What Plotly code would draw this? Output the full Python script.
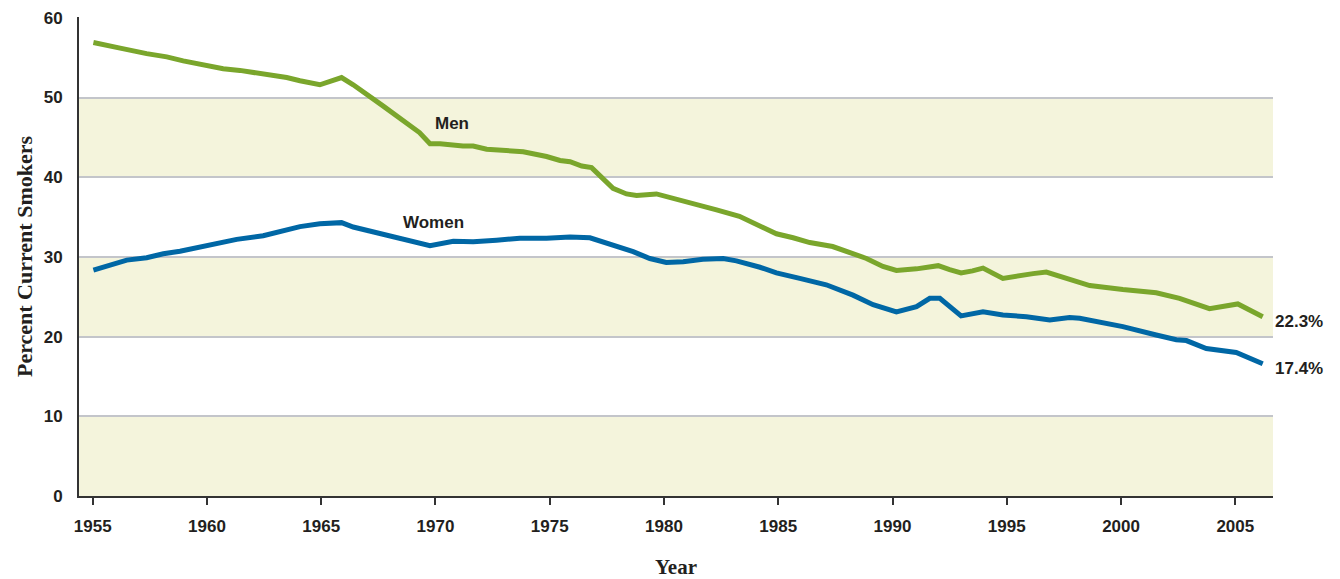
import plotly.graph_objects as go

# ---- data ----
men_years = [1955.03, 1955.6, 1956.2, 1957.36, 1958.24, 1958.96, 1959.84, 1960.71, 1961.44,
             1962.17, 1962.76, 1963.49, 1964.07, 1964.65, 1964.94, 1965.89, 1966.4, 1967.7,
             1968.6, 1969.3, 1969.76, 1970.2, 1971.2, 1971.65, 1972.24, 1973.26, 1973.84,
             1974.86, 1975.45, 1975.89, 1976.4, 1976.83, 1977.77, 1978.36, 1978.8, 1979.67,
             1980.4, 1981.1, 1981.7, 1982.3, 1983.3, 1984.05, 1984.92, 1985.65, 1986.38,
             1987.38, 1988.13, 1988.86, 1989.58, 1990.17, 1991.05, 1991.63, 1992.0, 1992.5,
             1993.0, 1993.5, 1993.96, 1994.83, 1995.42, 1996.15, 1996.73, 1997.75, 1998.63,
             2000.08, 2001.54, 2002.56, 2003.87, 2005.11, 2006.2]
men_pct = [56.9, 56.5, 56.2, 55.5, 55.1, 54.6, 54.1, 53.6, 53.4,
           53.1, 52.8, 52.5, 52.1, 51.7, 51.6, 52.5, 51.6, 48.95,
           47.1, 45.6, 44.2, 44.2, 43.9, 43.9, 43.5, 43.3, 43.2,
           42.6, 42.1, 41.95, 41.4, 41.2, 38.6, 37.9, 37.7, 37.9,
           37.3, 36.8, 36.3, 35.9, 35.1, 34.0, 32.9, 32.4, 31.8,
           31.3, 30.6, 29.8, 28.8, 28.3, 28.5, 28.75, 28.9, 28.4,
           28.0, 28.25, 28.6, 27.3, 27.6, 27.9, 28.1, 27.1, 26.4,
           25.9, 25.5, 24.8, 23.5, 24.1, 22.5]

women_years = [1955.03, 1955.76, 1956.49, 1957.36, 1958.09, 1958.82, 1959.84, 1960.57, 1961.3,
               1962.46, 1963.2, 1964.07, 1964.94, 1965.89, 1966.4, 1967.42, 1968.6, 1969.76,
               1970.78, 1971.65, 1972.67, 1973.69, 1974.86, 1975.89, 1976.76, 1977.2, 1977.77,
               1978.65, 1979.38, 1980.1, 1980.84, 1981.7, 1982.59, 1983.17, 1984.2, 1984.92,
               1985.94, 1987.1, 1988.27, 1989.15, 1990.17, 1991.05, 1991.63, 1992.07, 1993.0,
               1993.96, 1994.83, 1995.86, 1996.88, 1997.75, 1998.19, 2000.08, 2001.54, 2002.42,
               2002.86, 2003.73, 2005.04, 2006.2]
women_pct = [28.35, 28.98, 29.6, 29.9, 30.4, 30.7, 31.3, 31.7, 32.2,
             32.65, 33.2, 33.8, 34.15, 34.3, 33.75, 33.05, 32.2, 31.4,
             31.95, 31.9, 32.1, 32.35, 32.35, 32.5, 32.4, 32.0, 31.4,
             30.65, 29.8, 29.3, 29.4, 29.7, 29.8, 29.5, 28.7, 28.0,
             27.3, 26.5, 25.2, 24.0, 23.1, 23.75, 24.8, 24.8, 22.6,
             23.1, 22.7, 22.5, 22.1, 22.4, 22.3, 21.25, 20.2, 19.6,
             19.5, 18.5, 18.0, 16.6]

year_ticks = [1955, 1960, 1965, 1970, 1975, 1980, 1985, 1990, 1995, 2000, 2005]
pct_ticks = [0, 10, 20, 30, 40, 50, 60]
band_ranges = [(0, 10), (20, 30), (40, 50)]

series_labels = ["Men", "Women"]
end_labels = ["22.3%", "17.4%"]

# ---- style ----
GREEN = "#7aa62c"
BLUE = "#0067a5"
BAND = "#f4f4dc"
GRID = "#c3c5ca"
INK = "#231f20"
SANS = "Liberation Sans, Arial, sans-serif"
SERIF = "Liberation Serif, Times New Roman, serif"

fig = go.Figure()
fig.add_trace(go.Scatter(x=men_years, y=men_pct, mode="lines", name=series_labels[0],
                         line=dict(color=GREEN, width=5), showlegend=False))
fig.add_trace(go.Scatter(x=women_years, y=women_pct, mode="lines", name=series_labels[1],
                         line=dict(color=BLUE, width=5), showlegend=False))

for lo, hi in band_ranges:
    fig.add_shape(type="rect", xref="paper", yref="y", x0=0, x1=1, y0=lo, y1=hi,
                  fillcolor=BAND, line=dict(width=0), layer="below")

lab_font = dict(family=SANS, size=17, color=INK, weight="bold")
fig.add_annotation(x=1970.72, y=46.7, text="Men", showarrow=False, font=lab_font)
fig.add_annotation(x=1969.9, y=34.3, text="Women", showarrow=False, font=lab_font)
fig.add_annotation(x=men_years[-1], y=men_pct[-1], text=end_labels[0],
                   showarrow=False, xanchor="left", xshift=10, yshift=-5, font=lab_font)
fig.add_annotation(x=women_years[-1], y=women_pct[-1], text=end_labels[1],
                   showarrow=False, xanchor="left", xshift=10, yshift=-5, font=lab_font)

# the page body adds an 8 px offset, so the figure is 8 px smaller than the window
fig.update_layout(
    width=1332, height=571,
    margin=dict(l=71, r=67, t=9, b=83, autoexpand=False),
    paper_bgcolor="white", plot_bgcolor="white",
    showlegend=False,
)
tick_font = dict(family=SANS, size=17, color=INK, weight="bold")
fig.update_xaxes(
    range=[1954.4, 2006.65], tickvals=year_ticks,
    showgrid=False, zeroline=False, automargin=False,
    showline=True, linecolor="#333333", linewidth=2,
    ticks="outside", ticklen=7, tickwidth=2, tickcolor="#333333",
    tickfont=tick_font,
    ticklabelstandoff=7,
    title=dict(text="Year", font=dict(family=SERIF, size=21, color=INK, weight="bold"), standoff=27),
)
fig.update_yaxes(
    range=[0, 60.1], tickvals=pct_ticks,
    showgrid=True, gridcolor=GRID, gridwidth=2, zeroline=False, automargin=False,
    showline=True, linecolor="#333333", linewidth=2,
    ticks="", tickfont=tick_font,
    ticklabelstandoff=11,
    title=dict(text="Percent Current Smokers", font=dict(family=SERIF, size=22, color=INK, weight="bold"), standoff=5),
)

fig.write_html("out.html")
